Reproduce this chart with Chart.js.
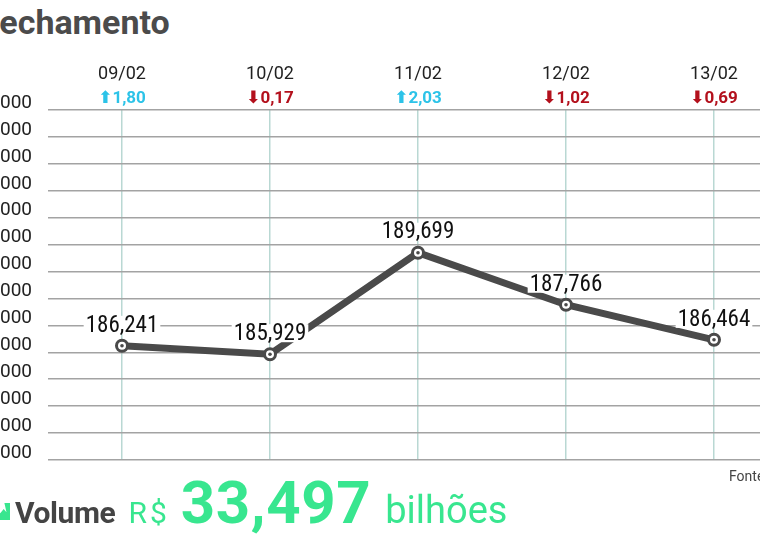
<!DOCTYPE html>
<html>
<head>
<meta charset="utf-8">
<script src="https://cdn.jsdelivr.net/npm/chart.js@4.4.0/dist/chart.umd.min.js"></script>
<style>
	html, body { margin: 0; padding: 0; background: #fff; overflow: hidden; }
	body { width: 760px; height: 541px; position: relative; font-family: Roboto, "Noto Sans", sans-serif; }
	.title { position: absolute; left: -19px; top: 3px; font-size: 34px; font-weight: 700; color: #4b4b4b; line-height: 38px; white-space: nowrap; }
	.chart-box { position: absolute; left: -60px; top: 0; width: 860px; height: 541px; }
	.fonte { position: absolute; left: 729px; top: 468px; font-size: 14px; color: #444; white-space: nowrap; }
	.volume { position: absolute; left: 15px; top: 473px; line-height: 60px; white-space: nowrap; color: #38e68f; }
	.volume .lbl { font-size: 30px; font-weight: 700; color: #444; letter-spacing: -0.4px; }
	.volume .cur { font-size: 30px; margin-left: 13px; letter-spacing: 3px; }
	.volume .big { font-size: 60px; font-weight: 700; margin-left: 11px; letter-spacing: 0.6px; }
	.volume .unit { font-size: 38px; margin-left: 14px; }
	.icon { position: absolute; left: -4px; top: 503px; width: 14px; height: 17px; background: #38e68f;
		clip-path: polygon(0 30%, 30% 60%, 55% 35%, 75% 55%, 60% 0, 100% 0, 100% 100%, 0 100%); }
</style>
</head>
<body>
	<div class="title">Fechamento</div>
	<div class="chart-box"><canvas id="chart"></canvas></div>
	<div class="fonte">Fonte: B3</div>
	<div class="icon"></div>
	<div class="volume"><span class="lbl">Volume</span><span class="cur">R$</span><span class="big">33,497</span><span class="unit">bilhões</span></div>

<script>
// dados do pregão
const dias = ['09/02', '10/02', '11/02', '12/02', '13/02'];
const fechamento = [186241, 185929, 189699, 187766, 186464];
const variacao = [1.80, -0.17, 2.03, -1.02, -0.69];
const yMin = 182000;
const yMax = 195000;
const yStep = 1000;

const UP = '#2cc3e8';
const DOWN = '#b3101c';
const LINE = '#4a4a4a';

function fmtVar(v) {
	const s = Math.abs(v).toFixed(2).replace('.', ',');
	return (v >= 0 ? '\u2B06' : '\u2B07') + s;
}

function fmtPts(v) {
	return (v / 1000).toFixed(3).replace('.', ',');
}

// rótulos de valor acima dos pontos
const valueLabels = {
	id: 'valueLabels',
	afterDatasetsDraw(chart) {
		const meta = chart.getDatasetMeta(0);
		const ctx = chart.ctx;
		ctx.save();
		ctx.font = '23px "Liberation Sans Narrow", "Roboto Condensed", Roboto, sans-serif';
		ctx.textAlign = 'center';
		ctx.textBaseline = 'middle';
		meta.data.forEach((pt, i) => {
			const txt = fmtPts(fechamento[i]);
			const w = ctx.measureText(txt).width;
			const y = pt.y - 21;
			ctx.fillStyle = '#fff';
			ctx.fillRect(pt.x - w / 2 - 2, y - 9, w + 4, 18);
			ctx.fillStyle = '#111';
			ctx.fillText(txt, pt.x, y + 1);
		});
		ctx.restore();
	}
};

new Chart(document.getElementById('chart').getContext('2d'), {
	type: 'line',
	data: {
		labels: dias,
		datasets: [{
			data: fechamento,
			borderColor: LINE,
			borderWidth: 7,
			pointRadius: 5.5,
			pointBorderWidth: 3,
			pointBackgroundColor: '#fff',
			pointBorderColor: LINE,
			tension: 0,
			xAxisID: 'x',
			order: 2
		}, {
			data: fechamento,
			showLine: false,
			pointRadius: 1.8,
			pointBorderWidth: 0,
			pointBackgroundColor: LINE,
			xAxisID: 'x',
			order: 1
		}]
	},
	options: {
		responsive: true,
		maintainAspectRatio: false,
		animation: false,
		layout: { padding: { top: 56, right: 12, bottom: 81, left: 0 } },
		plugins: { legend: { display: false }, tooltip: { enabled: false } },
		scales: {
			x: {
				position: 'top',
				weight: 2,
				offset: true,
				grid: { color: '#b9d8d3', lineWidth: 1.5, drawTicks: false },
				border: { display: false },
				ticks: { color: '#222', padding: 1, font: { family: 'Roboto', size: 18 } },
				afterFit(s) { s.height = 30; }
			},
			x2: {
				type: 'category',
				labels: dias,
				position: 'top',
				weight: 1,
				offset: true,
				grid: { display: false, drawTicks: false },
				border: { display: false },
				ticks: {
					padding: 1,
					font: { family: 'Roboto, "DejaVu Sans"', size: 17, weight: 'bold' },
					color: ctx => variacao[ctx.index] >= 0 ? UP : DOWN,
					callback: (val, i) => fmtVar(variacao[i])
				},
				afterFit(s) { s.height = 24; }
			},
			y: {
				min: yMin,
				max: yMax,
				grid: { color: '#a3a3a3', lineWidth: 1.5, drawTicks: false },
				border: { display: false },
				ticks: {
					stepSize: yStep,
					padding: 16,
					labelOffset: -7,
					color: '#222',
					font: { family: 'Roboto', size: 19 },
					callback: v => v.toLocaleString('pt-BR')
				},
				afterFit(s) { s.width = 108; }
			}
		}
	},
	plugins: [valueLabels]
});
</script>
</body>
</html>
